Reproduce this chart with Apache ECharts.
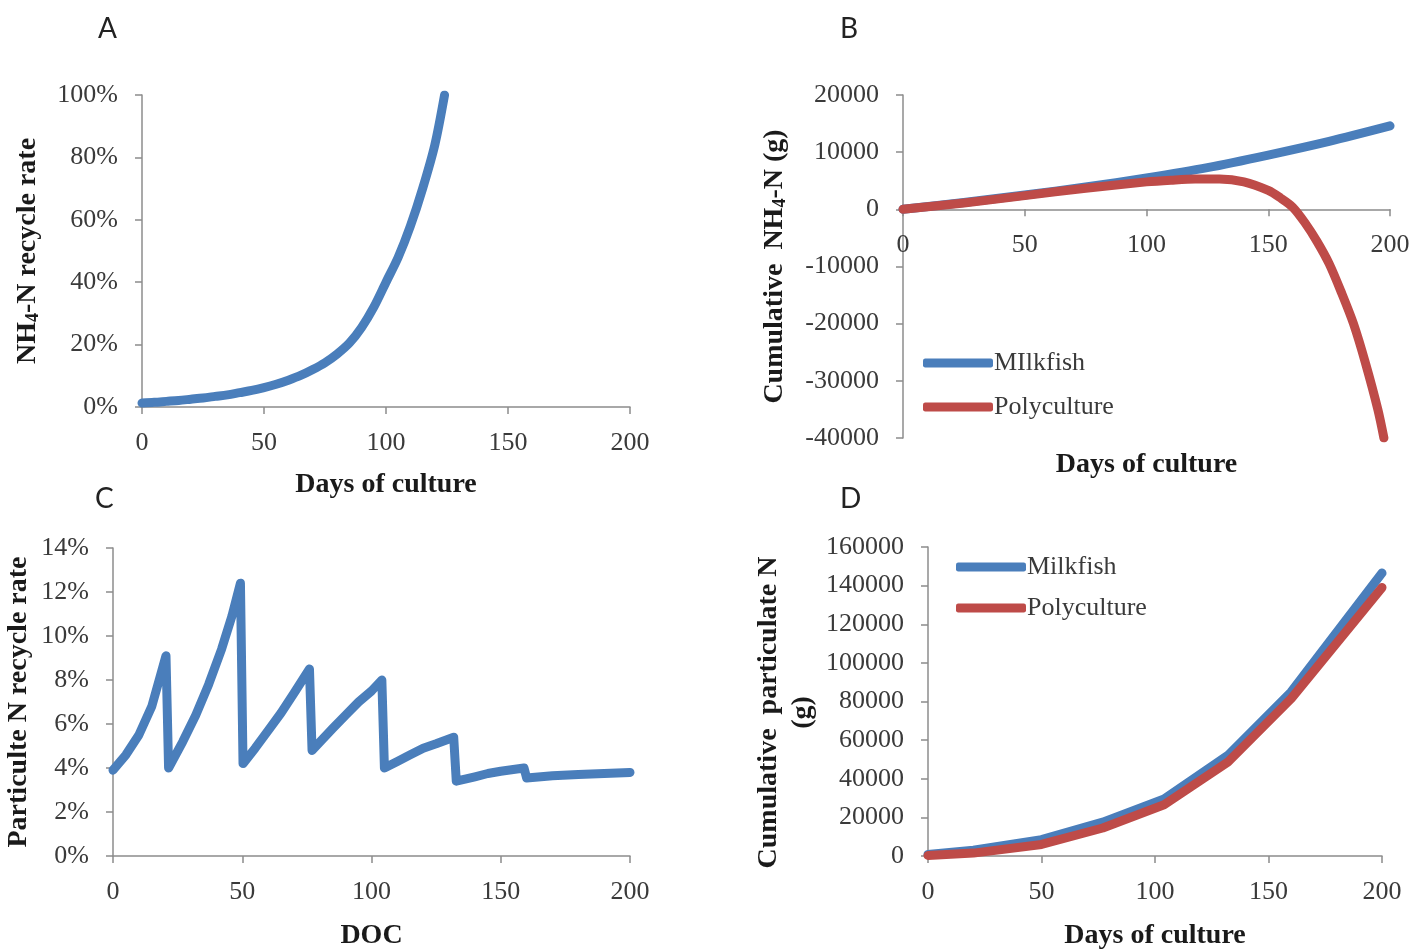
<!DOCTYPE html>
<html>
<head>
<meta charset="utf-8">
<script src="https://cdn.jsdelivr.net/npm/echarts@6/dist/echarts.min.js"></script>
<style>
  html, body { margin: 0; padding: 0; background: #fff; }
  #chart { width: 1416px; height: 951px; }
</style>
</head>
<body>
<div id="chart"></div>
<script>
// Panel A: NH4-N recycle rate (%) over days of culture
const recycleDays = [0, 5, 10, 15, 20, 25, 30, 35, 40, 45, 50, 55, 60, 65, 70, 75, 80, 85, 90, 95, 100, 105, 110, 115, 120, 124];
const recycleRate = [1.3, 1.5, 1.8, 2.1, 2.5, 2.9, 3.4, 3.9, 4.6, 5.3, 6.2, 7.3, 8.6, 10.1, 12.0, 14.2, 17.0, 20.5, 25.5, 32, 40, 48, 58, 70, 84, 100];

// Panel B: cumulative NH4-N (g)
const nh4MilkDays = [0, 25, 50, 75, 100, 125, 150, 175, 200];
const nh4Milkfish = [0, 1200, 2500, 3900, 5500, 7300, 9500, 11900, 14600];
const nh4PolyDays = [0, 25, 50, 75, 100, 110, 120, 130, 140, 150, 155, 160, 165, 170, 175, 180, 185, 190, 195, 197.5];
const nh4Poly = [0, 1100, 2400, 3700, 4800, 5100, 5300, 5300, 4800, 3300, 2000, 400, -2300, -5600, -9500, -14500, -20000, -27000, -35000, -40000];
const nh4Min = -40000, nh4Max = 20000;

// Panel C: particulate N recycle rate (%) by DOC
const docDays = [0, 5, 10, 15, 20.5, 21.5, 27, 32, 37, 42, 46, 49.3, 50.3, 55, 60, 65, 70, 76, 77, 85, 90, 95, 100, 104, 105, 110, 115, 120, 125, 131.8, 132.8, 140, 145, 150, 159, 160, 170, 180, 190, 200];
const particRate = [3.9, 4.6, 5.5, 6.8, 9.1, 4.0, 5.2, 6.4, 7.8, 9.4, 10.9, 12.4, 4.2, 4.9, 5.7, 6.5, 7.4, 8.5, 4.8, 5.8, 6.4, 7.0, 7.5, 8.0, 4.0, 4.3, 4.6, 4.9, 5.1, 5.4, 3.4, 3.6, 3.75, 3.85, 4.0, 3.55, 3.65, 3.7, 3.75, 3.8];

// Panel D: cumulative particulate N (g)
const partDays = [0, 20, 50, 77, 104, 132, 160, 200];
const partMilkfish = [800, 3000, 8500, 17500, 29500, 52000, 85000, 146500];
const partPoly = [300, 1500, 6000, 14500, 26500, 48500, 81500, 139000];

const panelLetters = ['A', 'B', 'C', 'D'];

const BLUE = '#4a7ebb';
const RED = '#be4b48';
const SERIF = '"Liberation Serif", "Times New Roman", serif';
const AXIS_GREY = '#8c8c8c';
const LABEL_COLOR = '#3a3a3a';
const NAME_COLOR = '#1a1a1a';
const NAME_SIZE = 28;

const zip = (xs, ys) => xs.map((x, i) => [x, ys[i]]);
const plain = v => String(v);
const pct = v => v + '%';

const gridB = { left: 903, top: 95, width: 487, height: 343 };

function nameStyle(extra) {
  return Object.assign({ fontFamily: SERIF, fontSize: NAME_SIZE, fontWeight: 'bold', color: NAME_COLOR }, extra || {});
}

function xAxisFor(gridIndex, name, nameGap, extra) {
  return Object.assign({
    type: 'value', gridIndex, min: 0, max: 200, interval: 50,
    name, nameLocation: 'middle', nameGap,
    nameTextStyle: nameStyle(),
    axisLine: { show: true, onZero: false, lineStyle: { color: AXIS_GREY, width: 1.5 } },
    axisTick: { show: true, length: 7, lineStyle: { color: AXIS_GREY, width: 1.5 } },
    axisLabel: { fontFamily: SERIF, fontSize: 26, color: LABEL_COLOR, margin: 23, formatter: plain },
    splitLine: { show: false }
  }, extra || {});
}

function yAxisFor(gridIndex, min, max, interval, name, nameGap, fmt, extra) {
  return Object.assign({
    type: 'value', gridIndex, min, max, interval,
    name, nameLocation: 'middle', nameGap,
    nameTextStyle: nameStyle(),
    axisLine: { show: true, lineStyle: { color: AXIS_GREY, width: 1.5 } },
    axisTick: { show: true, length: 7, lineStyle: { color: AXIS_GREY, width: 1.5 } },
    axisLabel: { fontFamily: SERIF, fontSize: 26, color: LABEL_COLOR, margin: 24, formatter: fmt },
    splitLine: { show: false }
  }, extra || {});
}

function lineSeries(name, xi, yi, data, color, smooth) {
  return {
    type: 'line', name, xAxisIndex: xi, yAxisIndex: yi, data,
    showSymbol: false, symbol: 'none', smooth: smooth || false,
    lineStyle: { color, width: 9, cap: 'round', join: 'round' },
    itemStyle: { color },
    clip: true
  };
}

const subRich = {
  b: nameStyle(),
  s: nameStyle({ fontSize: 18, padding: [11, 0, 0, 0] })
};

// B's horizontal axis sits on the zero line of its value axis
const zeroOffsetB = -gridB.height * (0 - nh4Min) / (nh4Max - nh4Min);

const option = {
  animation: false,
  backgroundColor: '#ffffff',
  title: [
    { text: panelLetters[0], left: 98, top: 15 },
    { text: panelLetters[1], left: 840, top: 15 },
    { text: panelLetters[2], left: 95, top: 485 },
    { text: panelLetters[3], left: 840, top: 485 }
  ].map(t => Object.assign(t, {
    padding: 0,
    textStyle: { fontFamily: 'Lato, "Open Sans", sans-serif', fontSize: 28, fontWeight: 'normal', color: '#222' }
  })),
  grid: [
    { left: 142, top: 95, width: 488, height: 312 },
    gridB,
    { left: 113, top: 548, width: 517, height: 311 },
    { left: 928, top: 547, width: 454, height: 312 }
  ],
  legend: [
    {
      orient: 'vertical', left: 918, top: 343, itemWidth: 70, itemHeight: 9, itemGap: 14,
      icon: 'roundRect',
      data: ['MIlkfish', 'Polyculture'],
      textStyle: { fontFamily: SERIF, fontSize: 26, color: LABEL_COLOR, lineHeight: 30, padding: [0, 0, 0, -4] }
    },
    {
      orient: 'vertical', left: 951, top: 547, itemWidth: 70, itemHeight: 9, itemGap: 11,
      icon: 'roundRect',
      data: ['Milkfish', 'Polyculture '],
      textStyle: { fontFamily: SERIF, fontSize: 26, color: LABEL_COLOR, lineHeight: 30, padding: [0, 0, 0, -4] }
    }
  ],
  xAxis: [
    xAxisFor(0, 'Days of culture', 64),
    xAxisFor(1, 'Days of culture', 48 - zeroOffsetB - 35, { offset: zeroOffsetB }),
    xAxisFor(2, 'DOC', 66),
    xAxisFor(3, 'Days of culture', 66)
  ],
  yAxis: [
    yAxisFor(0, 0, 100, 20, '{b|NH}{s|4}{b|-N recycle rate}', 100, pct,
      { nameTextStyle: nameStyle({ rich: subRich }) }),
    yAxisFor(1, nh4Min, nh4Max, 10000, '{b|Cumulative  NH}{s|4}{b|-N (g)}', 114, plain,
      { nameTextStyle: nameStyle({ rich: subRich }) }),
    yAxisFor(2, 0, 14, 2, 'Particulte N recycle rate', 80, pct),
    yAxisFor(3, 0, 160000, 20000, 'Cumulative  particulate N\n(g)', 108, plain,
      { nameTextStyle: nameStyle({ lineHeight: 34, padding: [0, 22, 0, 0] }) })
  ],
  series: [
    lineSeries('NH4-N recycle rate', 0, 0, zip(recycleDays, recycleRate), BLUE, 0.3),
    lineSeries('MIlkfish', 1, 1, zip(nh4MilkDays, nh4Milkfish), BLUE, 0.3),
    lineSeries('Polyculture', 1, 1, zip(nh4PolyDays, nh4Poly), RED, 0.3),
    lineSeries('Particulate N recycle rate', 2, 2, zip(docDays, particRate), BLUE, false),
    lineSeries('Milkfish', 3, 3, zip(partDays, partMilkfish), BLUE, false),
    lineSeries('Polyculture ', 3, 3, zip(partDays, partPoly), RED, false)
  ]
};

const chart = echarts.init(document.getElementById('chart'), null, { renderer: 'canvas' });
chart.setOption(option);
</script>
</body>
</html>
